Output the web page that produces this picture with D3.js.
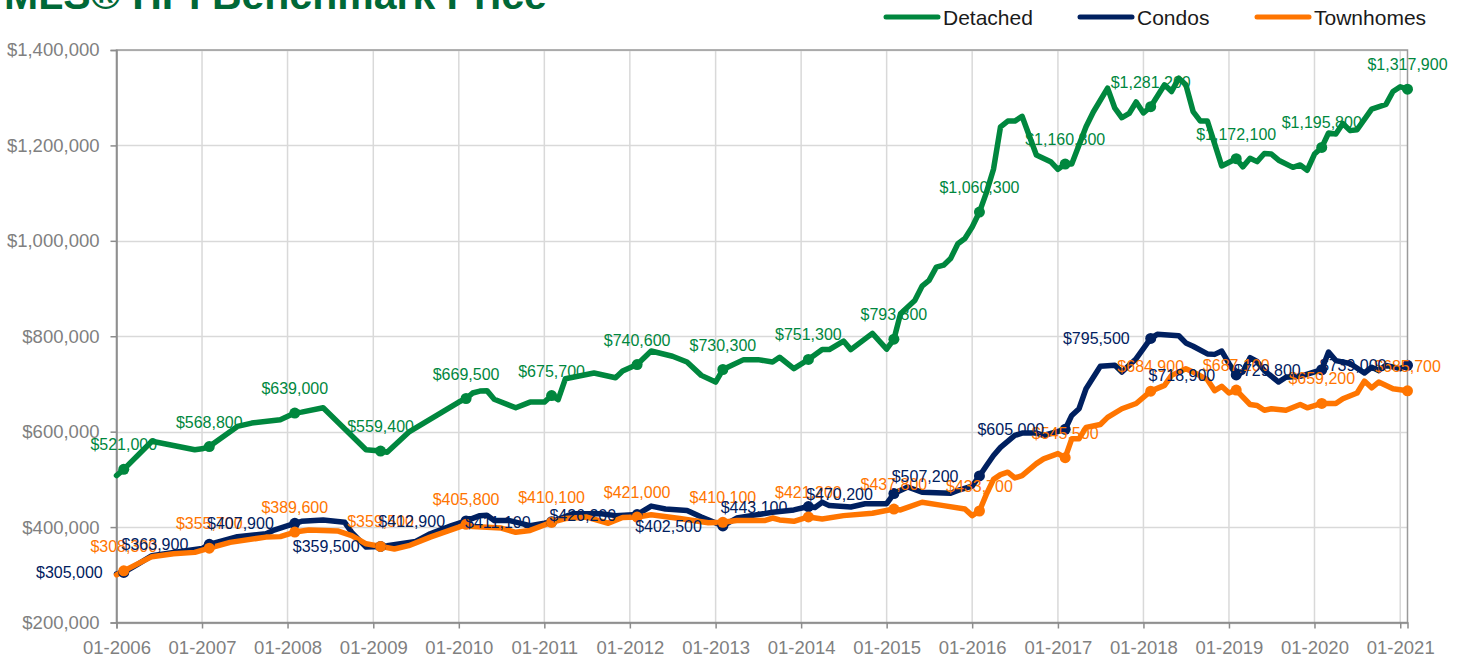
<!DOCTYPE html>
<html>
<head>
<meta charset="utf-8">
<script src="https://cdn.jsdelivr.net/npm/d3@7"></script>
<style>
  body { margin: 0; background: #fff; }
  svg { display: block; font-family: "Liberation Sans", Arial, Helvetica, sans-serif; }
</style>
</head>
<body>
<div id="chart"></div>
<script>
// HPI benchmark price, [month, price]
const detached = [
  ["2006-01", 508000], ["2006-02", 521000], ["2006-06", 580000], ["2006-09", 571000], ["2006-12", 562000],
  ["2007-01", 564000], ["2007-02", 568800], ["2007-06", 611000], ["2007-08", 618000], ["2007-12", 625000],
  ["2008-02", 639000], ["2008-03", 641000], ["2008-06", 650000], ["2008-12", 562000],
  ["2009-02", 559400], ["2009-03", 557000], ["2009-06", 599000],
  ["2010-01", 662000], ["2010-02", 669500], ["2010-03", 681000], ["2010-04", 685000], ["2010-05", 686000],
  ["2010-06", 668000], ["2010-09", 650000], ["2010-11", 662000],
  ["2011-01", 662000], ["2011-02", 675700], ["2011-03", 667000], ["2011-04", 711000], ["2011-08", 723000],
  ["2011-11", 713000], ["2011-12", 727000],
  ["2012-02", 740600], ["2012-04", 769000], ["2012-07", 758000], ["2012-09", 746000], ["2012-11", 718000],
  ["2013-01", 704000], ["2013-02", 730300], ["2013-05", 751000], ["2013-07", 751000], ["2013-09", 746000],
  ["2013-10", 756000], ["2013-12", 732000],
  ["2014-02", 751300], ["2014-04", 772000], ["2014-05", 772000], ["2014-07", 790000], ["2014-08", 772000],
  ["2014-11", 806000],
  ["2015-01", 773000], ["2015-02", 793800], ["2015-03", 847000], ["2015-05", 875000], ["2015-06", 905000],
  ["2015-07", 917000], ["2015-08", 945000], ["2015-09", 949000], ["2015-10", 963000], ["2015-11", 994000],
  ["2015-12", 1005000],
  ["2016-01", 1029000], ["2016-02", 1060300], ["2016-03", 1100000], ["2016-04", 1150000], ["2016-05", 1239000],
  ["2016-06", 1251000], ["2016-07", 1251000], ["2016-08", 1261000], ["2016-10", 1180000], ["2016-12", 1166000],
  ["2017-01", 1150000], ["2017-02", 1160800], ["2017-03", 1161000], ["2017-05", 1239000], ["2017-06", 1270000],
  ["2017-08", 1320000], ["2017-09", 1278000], ["2017-10", 1258000], ["2017-11", 1267000], ["2017-12", 1291000],
  ["2018-01", 1268000], ["2018-02", 1281200], ["2018-04", 1327000], ["2018-05", 1313000], ["2018-06", 1341000],
  ["2018-07", 1327000], ["2018-08", 1271000], ["2018-09", 1251000], ["2018-10", 1251000], ["2018-12", 1157000],
  ["2019-02", 1172100], ["2019-03", 1155000], ["2019-04", 1173000], ["2019-05", 1166000], ["2019-06", 1183000],
  ["2019-07", 1182000], ["2019-08", 1169000], ["2019-10", 1154000], ["2019-11", 1159000], ["2019-12", 1148000],
  ["2020-01", 1182000], ["2020-02", 1195800], ["2020-03", 1226000], ["2020-04", 1224000], ["2020-05", 1246000],
  ["2020-06", 1231000], ["2020-07", 1233000], ["2020-09", 1276000], ["2020-11", 1286000], ["2020-12", 1313000],
  ["2021-01", 1323000], ["2021-02", 1317900]
];

const condos = [
  ["2006-01", 302000], ["2006-02", 305000], ["2006-04", 322000], ["2006-06", 340000], ["2006-10", 349000],
  ["2007-01", 355000], ["2007-02", 363900], ["2007-06", 380000], ["2007-10", 386000], ["2007-11", 393000],
  ["2008-02", 407900], ["2008-03", 412000], ["2008-06", 415000], ["2008-09", 410000], ["2008-10", 389000],
  ["2008-12", 358000],
  ["2009-02", 359500], ["2009-03", 361000], ["2009-07", 370000], ["2009-09", 386000], ["2009-12", 403000],
  ["2010-02", 412900], ["2010-04", 424000], ["2010-05", 425000], ["2010-06", 414000], ["2010-08", 414000],
  ["2010-11", 403000],
  ["2011-01", 408000], ["2011-02", 411100], ["2011-05", 428000], ["2011-09", 428000], ["2011-11", 424000],
  ["2012-02", 426200], ["2012-04", 444000], ["2012-06", 438000], ["2012-09", 435000], ["2012-11", 421000],
  ["2013-02", 402500], ["2013-04", 419000], ["2013-06", 424000], ["2013-09", 431000], ["2013-12", 436000],
  ["2014-02", 443100], ["2014-03", 441000], ["2014-04", 452000], ["2014-05", 445000], ["2014-08", 442000],
  ["2014-10", 449000],
  ["2015-01", 449000], ["2015-02", 470200], ["2015-04", 484000], ["2015-06", 473000], ["2015-10", 471000],
  ["2015-11", 477000],
  ["2016-01", 486000], ["2016-02", 507200], ["2016-03", 528000], ["2016-04", 550000], ["2016-05", 567000],
  ["2016-07", 592000], ["2016-08", 597000], ["2016-10", 597000], ["2016-11", 592000],
  ["2017-02", 605000], ["2017-03", 634000], ["2017-04", 648000], ["2017-05", 690000], ["2017-07", 737000],
  ["2017-09", 739000], ["2017-10", 725000], ["2017-12", 753000],
  ["2018-02", 795500], ["2018-03", 804000], ["2018-06", 801000], ["2018-07", 786000], ["2018-08", 779000],
  ["2018-10", 763000], ["2018-11", 762000], ["2018-12", 769000],
  ["2019-01", 743000], ["2019-02", 718900], ["2019-03", 725000], ["2019-04", 755000], ["2019-05", 747000],
  ["2019-06", 728000], ["2019-08", 704000], ["2019-09", 714000], ["2019-11", 716000],
  ["2020-02", 729800], ["2020-03", 767000], ["2020-04", 749000], ["2020-06", 743000], ["2020-08", 723000],
  ["2020-09", 735000], ["2020-10", 728000], ["2020-11", 739000],
  ["2021-01", 732000], ["2021-02", 739000]
];

const townhomes = [
  ["2006-01", 300000], ["2006-02", 308300], ["2006-06", 338000], ["2006-09", 344000], ["2006-12", 347000],
  ["2007-02", 355700], ["2007-05", 368000], ["2007-10", 379000], ["2007-12", 380000],
  ["2008-02", 389600], ["2008-04", 394000], ["2008-08", 392000], ["2008-10", 382000], ["2008-12", 365000],
  ["2009-02", 359500], ["2009-04", 354000], ["2009-06", 361000], ["2009-09", 379000],
  ["2010-01", 400000], ["2010-02", 405800], ["2010-03", 401000], ["2010-07", 398000], ["2010-09", 389000],
  ["2010-11", 393000],
  ["2011-02", 410100], ["2011-04", 418000], ["2011-07", 421000], ["2011-10", 408000], ["2011-12", 420000],
  ["2012-02", 421000], ["2012-04", 426000], ["2012-08", 418000], ["2012-12", 409000],
  ["2013-02", 410100], ["2013-04", 414000], ["2013-08", 414000], ["2013-09", 419000], ["2013-10", 415000],
  ["2013-12", 412000],
  ["2014-02", 421200], ["2014-04", 417000], ["2014-07", 424000], ["2014-11", 429000],
  ["2015-02", 437800], ["2015-03", 436000], ["2015-06", 452000], ["2015-09", 445000], ["2015-12", 438000],
  ["2016-01", 424000], ["2016-02", 433700], ["2016-03", 468000], ["2016-04", 500000], ["2016-05", 510000],
  ["2016-06", 515000], ["2016-07", 503000], ["2016-08", 508000], ["2016-10", 533000], ["2016-11", 543000],
  ["2017-01", 554000], ["2017-02", 545500], ["2017-03", 585000], ["2017-04", 585000], ["2017-05", 609000],
  ["2017-07", 615000], ["2017-08", 630000], ["2017-10", 648000], ["2017-12", 659000],
  ["2018-02", 684900], ["2018-04", 697000], ["2018-05", 718000], ["2018-07", 732000], ["2018-08", 725000],
  ["2018-10", 709000], ["2018-11", 686000], ["2018-12", 695000],
  ["2019-01", 681000], ["2019-02", 687100], ["2019-04", 657000], ["2019-05", 655000], ["2019-06", 645000],
  ["2019-07", 648000], ["2019-09", 645000], ["2019-11", 657000], ["2019-12", 650000],
  ["2020-02", 659200], ["2020-04", 659000], ["2020-05", 669000], ["2020-07", 681000], ["2020-08", 706000],
  ["2020-09", 692000], ["2020-10", 704000], ["2020-12", 690000],
  ["2021-01", 688000], ["2021-02", 685700]
];

const seriesNames = ["Detached", "Condos", "Townhomes"];
const seriesData = [detached, condos, townhomes];
const yTicks = [200000, 400000, 600000, 800000, 1000000, 1200000, 1400000];

const colors = ["#00873e", "#002060", "#ff7500"];

let parse = d3.timeParse("%Y-%m");
let fmt = d3.format("$,");

let svg = d3.select("#chart")
  .append("svg")
  .attr("width", 1464)
  .attr("height", 660);

let x = d3.scaleTime()
  .domain([parse("2006-01"), parse("2021-02")])
  .range([116.5, 1407.5]);

let y = d3.scaleLinear()
  .domain([200000, 1400000])
  .range([622.5, 50]);

// gridlines
svg.append("g")
  .selectAll("line")
  .data(yTicks)
  .enter()
  .append("line")
  .attr("x1", 116.5)
  .attr("x2", 1407.5)
  .attr("y1", d => Math.round(y(d)) + 0.5)
  .attr("y2", d => Math.round(y(d)) + 0.5)
  .attr("stroke", "#d9d9d9")
  .attr("stroke-width", 1.5);

svg.append("g")
  .selectAll("line")
  .data(x.ticks(d3.timeYear.every(1)))
  .enter()
  .append("line")
  .attr("x1", d => x(d))
  .attr("x2", d => x(d))
  .attr("y1", 50)
  .attr("y2", 622.5)
  .attr("stroke", "#d9d9d9")
  .attr("stroke-width", 1.5);

// frame
svg.append("rect")
  .attr("x", 116.5)
  .attr("y", 50)
  .attr("width", 1291)
  .attr("height", 572.5)
  .attr("fill", "none")
  .attr("stroke", "#9a9a9a")
  .attr("stroke-width", 1.5);

// axes
let yAxis = svg.append("g")
  .attr("transform", "translate(116.5,0)")
  .call(d3.axisLeft(y).tickValues(yTicks).tickFormat(fmt).tickSize(6).tickPadding(11));

let xAxis = svg.append("g")
  .attr("transform", "translate(0,622.5)")
  .call(d3.axisBottom(x).ticks(d3.timeYear.every(1)).tickFormat(d3.timeFormat("%m-%Y")).tickSize(6).tickPadding(12));

[yAxis, xAxis].forEach(a => {
  a.select(".domain").attr("stroke", "#8c8c8c").attr("stroke-width", 1.5);
  a.selectAll(".tick line").attr("stroke", "#8c8c8c").attr("stroke-width", 1.5);
  a.selectAll("text")
    .attr("fill", "#808080")
    .style("font-size", "18.5px")
    .style("font-family", "'Liberation Sans', Arial, sans-serif");
});

// lines
let line = d3.line()
  .x(d => x(parse(d[0])))
  .y(d => y(d[1]));

seriesData.forEach((data, i) => {
  svg.append("path")
    .attr("d", line(data))
    .attr("fill", "none")
    .attr("stroke", colors[i])
    .attr("stroke-width", 5.5)
    .attr("stroke-linejoin", "round")
    .attr("stroke-linecap", "round");
});

// February markers
seriesData.forEach((data, i) => {
  svg.append("g")
    .selectAll("circle")
    .data(data.filter(d => d[0].endsWith("-02")))
    .enter()
    .append("circle")
    .attr("cx", d => x(parse(d[0])))
    .attr("cy", d => y(d[1]))
    .attr("r", 5.5)
    .attr("fill", colors[i]);
});

// labels: detached and townhomes above, condos to the left (drawn last, on top)
[0, 2, 1].forEach(i => {
  svg.append("g")
    .selectAll("text")
    .data(seriesData[i].filter(d => d[0].endsWith("-02")))
    .enter()
    .append("text")
    .attr("x", d => i == 1 ? x(parse(d[0])) - 21 : x(parse(d[0])))
    .attr("y", d => i == 1 ? y(d[1]) + 6 : y(d[1]) - 19)
    .attr("text-anchor", i == 1 ? "end" : "middle")
    .attr("fill", colors[i])
    .style("font-size", "16px")
    .text(d => fmt(d[1]));
});

// title (cut off at the top)
svg.append("text")
  .attr("x", 4)
  .attr("y", 9)
  .attr("fill", "#006837")
  .style("font-size", "41px")
  .style("font-weight", "bold")
  .text("MLS® HPI Benchmark Price");

// legend
let legendX = [884, 1078, 1255];
seriesNames.forEach((name, i) => {
  svg.append("line")
    .attr("x1", legendX[i] + 2)
    .attr("x2", legendX[i] + 54)
    .attr("y1", 17)
    .attr("y2", 17)
    .attr("stroke", colors[i])
    .attr("stroke-width", 5)
    .attr("stroke-linecap", "round");
  svg.append("text")
    .attr("x", legendX[i] + 59)
    .attr("y", 25)
    .attr("fill", "#1a1a1a")
    .style("font-size", "21px")
    .text(name);
});
</script>
</body>
</html>
